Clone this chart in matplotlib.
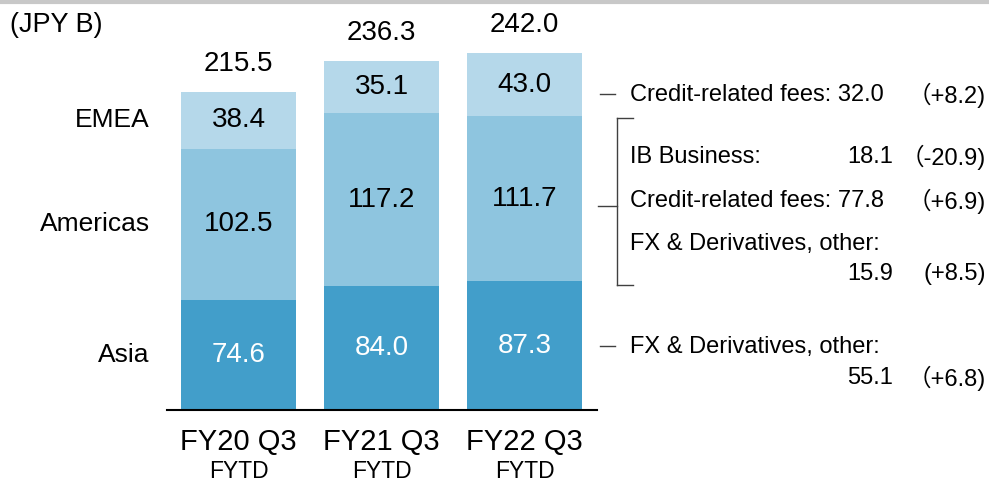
import numpy as np
import matplotlib
matplotlib.use("Agg")
import matplotlib.pyplot as plt
from matplotlib.lines import Line2D

plt.rcParams['font.family'] = ['Liberation Sans', 'Noto Sans CJK JP', 'DejaVu Sans']

categories = ["FY20 Q3", "FY21 Q3", "FY22 Q3"]
sub_labels = ["FYTD", "FYTD", "FYTD"]
regions = ["Asia", "Americas", "EMEA"]
asia = [74.6, 84.0, 87.3]
americas = [102.5, 117.2, 111.7]
emea = [38.4, 35.1, 43.0]
totals = [215.5, 236.3, 242.0]
colors = ["#429ECA", "#8EC5DF", "#B5D8EA"]

W, H = 989, 483
fig = plt.figure(figsize=(W / 100, H / 100), dpi=100)


def fx(px):
    return px / W


def fy(py):
    return 1 - py / H


# bars axes: baseline at y=410px, x span 167..597px
ax = fig.add_axes([fx(167), fy(410), fx(597 - 167), (410 - 11.5) / H])
ax.set_xlim(-0.5, 2.507)
ax.set_ylim(0, 270)
ax.axis("off")

x = np.arange(len(categories))
bw = 0.804
bottom = np.zeros(len(categories))
for vals, col, txtcol in zip([asia, americas, emea], colors, ["white", "black", "black"]):
    ax.bar(x, vals, bw, bottom=bottom, color=col, edgecolor="none")
    for xi, b, v in zip(x, bottom, vals):
        ax.text(xi, b + v / 2, f"{v:.1f}", ha="center", va="center",
                fontsize=20, color=txtcol)
    bottom = bottom + np.array(vals)

for xi, t in zip(x, totals):
    ax.annotate(f"{t:.1f}", (xi, t), xytext=(0, 11), textcoords="offset points",
                ha="center", va="bottom", fontsize=20)

# region labels beside first bar
b0 = 0
for name, vals in zip(regions, [asia, americas, emea]):
    ax.text(-0.62, b0 + vals[0] / 2, name, ha="right", va="center", fontsize=19,
            clip_on=False)
    b0 += vals[0]

ax.plot([-0.5, 2.507], [0, 0], color="black", lw=1.5, clip_on=False)

for xi, c, s in zip(x, categories, sub_labels):
    ax.annotate(c, (xi, 0), xytext=(0, -23), textcoords="offset points",
                ha="center", va="center", fontsize=21)
    ax.annotate(s, (xi, 0), xytext=(0, -44), textcoords="offset points",
                ha="center", va="center", fontsize=16.5)

fig.text(fx(10), fy(25), "(JPY B)", ha="left", va="center", fontsize=19.5)

# top grey rule
fig.add_artist(Line2D([0, 1], [fy(2), fy(2)], color="#C8C8C8", lw=3))

# right-hand annotations
lc = "#404040"
fs = 17


def seg(x0, y0, x1, y1):
    fig.add_artist(Line2D([fx(x0), fx(x1)], [fy(y0), fy(y1)], color=lc, lw=1))


seg(600, 94, 615, 94)
fig.text(fx(630), fy(95), "Credit-related fees: 32.0", ha="left", va="center", fontsize=fs)
fig.text(fx(986), fy(95), "（+8.2)", ha="right", va="center", fontsize=fs)

seg(617, 118, 617, 285)
seg(617, 118, 633, 118)
seg(617, 285, 633, 285)
seg(598, 206, 617, 206)

fig.text(fx(630), fy(157), "IB Business:", ha="left", va="center", fontsize=fs)
fig.text(fx(893), fy(157), "18.1", ha="right", va="center", fontsize=fs)
fig.text(fx(986), fy(157), "（-20.9)", ha="right", va="center", fontsize=fs)

fig.text(fx(630), fy(201), "Credit-related fees: 77.8", ha="left", va="center", fontsize=fs)
fig.text(fx(986), fy(201), "（+6.9)", ha="right", va="center", fontsize=fs)

fig.text(fx(630), fy(244), "FX & Derivatives, other:", ha="left", va="center", fontsize=fs)
fig.text(fx(893), fy(274), "15.9", ha="right", va="center", fontsize=fs)
fig.text(fx(986), fy(274), "(+8.5)", ha="right", va="center", fontsize=fs)

seg(600, 346, 615, 346)
fig.text(fx(630), fy(347), "FX & Derivatives, other:", ha="left", va="center", fontsize=fs)
fig.text(fx(893), fy(378), "55.1", ha="right", va="center", fontsize=fs)
fig.text(fx(986), fy(378), "（+6.8)", ha="right", va="center", fontsize=fs)

fig.savefig("out.png", dpi=100)
